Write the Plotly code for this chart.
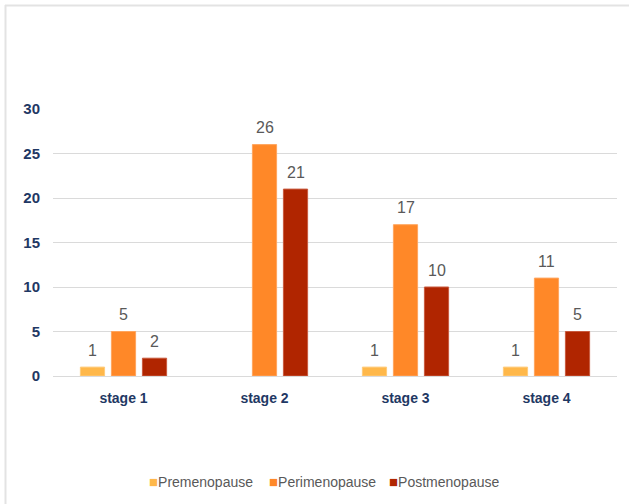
import plotly.graph_objects as go

stages = ["stage 1", "stage 2", "stage 3", "stage 4"]
premenopause = [1, 0, 1, 1]
perimenopause = [5, 26, 17, 11]
postmenopause = [2, 21, 10, 5]
y_ticks = [0, 5, 10, 15, 20, 25, 30]

series = [
    ("Premenopause", premenopause, "#FFB84A", "#FFCB7A"),
    ("Perimenopause", perimenopause, "#FF8828", "#FFA55E"),
    ("Postmenopause", postmenopause, "#B02500", "#C85A3E"),
]

W, H = 629, 504
L, R, T, B = 53, 12, 109, 128
pw, ph = W - L - R, H - T - B
BARGAP, GROUPGAP = 0.34, 0.22

FONT = "Liberation Sans, Arial, sans-serif"

def px_x(px):
    return (px - L) / pw

def px_y(py):
    return (H - B - py) / ph

fig = go.Figure()
for name, vals, color, edge in series:
    fig.add_trace(go.Bar(
        name=name,
        x=stages,
        y=vals,
        marker=dict(color=color,
                    line=dict(width=[1 if v else 0 for v in vals], color=edge)),
        showlegend=False,
    ))

# value labels above each bar (zero bars carry no label)
slot_px = pw / len(stages) * (1 - BARGAP) / len(series)
for i, (name, vals, color, edge) in enumerate(series):
    for stage, v in zip(stages, vals):
        if not v:
            continue
        fig.add_annotation(
            x=stage, y=v, xref="x", yref="y",
            text=str(v), showarrow=False,
            xshift=(i - (len(series) - 1) / 2) * slot_px,
            yshift=17, yanchor="middle",
            font=dict(family=FONT, size=16, color="#595959"),
        )

# legend row under the chart
legend_left_px = [147, 267, 387]
for (name, vals, color, edge), lx in zip(series, legend_left_px):
    fig.add_annotation(
        x=px_x(lx), y=px_y(481), xref="paper", yref="paper",
        xanchor="left", yanchor="middle", showarrow=False,
        text=f"<span style='color:{color};font-size:15px'>■</span>{name}",
        font=dict(family=FONT, size=14, color="#595959"),
    )

# thin frame on the top and left edges
fig.add_shape(type="line", xref="paper", yref="paper",
              x0=px_x(5), x1=px_x(629), y0=px_y(5.5), y1=px_y(5.5),
              line=dict(color="#E3E3E3", width=2))
fig.add_shape(type="line", xref="paper", yref="paper",
              x0=px_x(5.5), x1=px_x(5.5), y0=px_y(5), y1=px_y(504),
              line=dict(color="#E3E3E3", width=2))

fig.update_layout(
    width=W, height=H,
    margin=dict(l=L, r=R, t=T, b=B, autoexpand=False),
    paper_bgcolor="white",
    plot_bgcolor="white",
    barmode="group",
    bargap=BARGAP,
    bargroupgap=GROUPGAP,
    showlegend=False,
    xaxis=dict(
        showgrid=False,
        showline=False,
        ticks="",
        ticklabelstandoff=12,
        tickfont=dict(family=FONT, size=14, color="#1F3864", weight="bold"),
    ),
    yaxis=dict(
        range=[0, 30],
        tickvals=y_ticks,
        showgrid=True,
        gridcolor="#DADADA",
        gridwidth=1,
        zeroline=True,
        zerolinecolor="#DADADA",
        zerolinewidth=1,
        showline=False,
        ticks="",
        ticklabelstandoff=12,
        tickfont=dict(family=FONT, size=15, color="#1F3864", weight="bold"),
    ),
)

fig.write_html("out.html")
